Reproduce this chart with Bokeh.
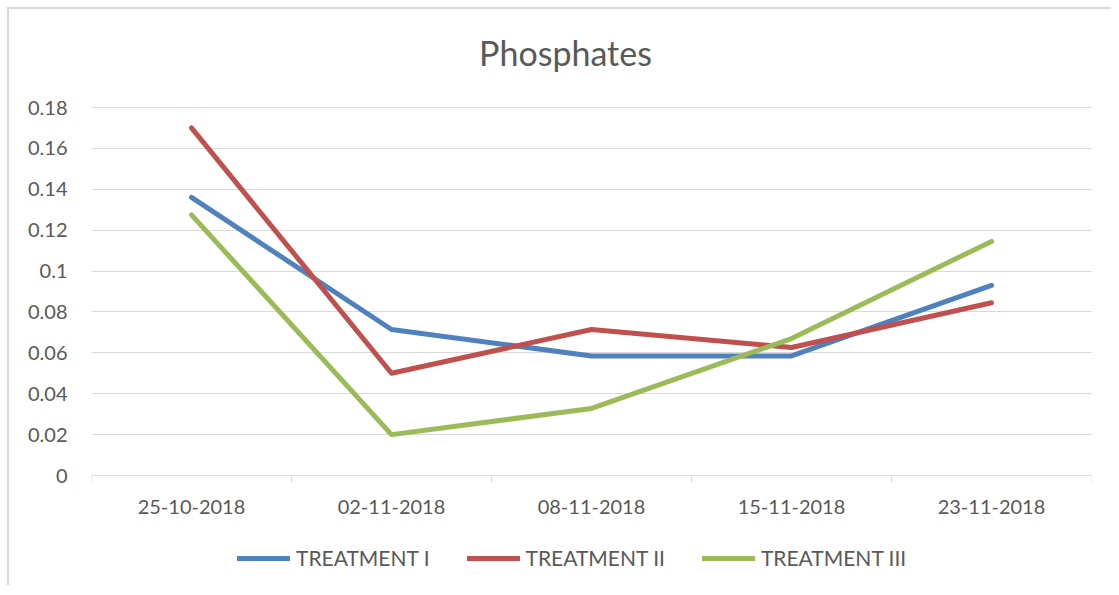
from bokeh.plotting import figure
from bokeh.models import Range1d, FixedTicker, Legend, LegendItem, Label
from bokeh.embed import file_html
from bokeh.resources import INLINE

dates = ["25-10-2018", "02-11-2018", "08-11-2018", "15-11-2018", "23-11-2018"]
treatment_1 = [0.136, 0.0714, 0.0585, 0.0585, 0.093]
treatment_2 = [0.170, 0.0500, 0.0714, 0.0626, 0.0845]
treatment_3 = [0.1275, 0.0200, 0.0328, 0.0670, 0.1145]
series_names = ["TREATMENT I", "TREATMENT II", "TREATMENT III"]
y_ticks = [0, 0.02, 0.04, 0.06, 0.08, 0.1, 0.12, 0.14, 0.16, 0.18]
y_tick_labels = ["0", "0.02", "0.04", "0.06", "0.08", "0.1", "0.12", "0.14", "0.16", "0.18"]
chart_title = "Phosphates"

FONT = "Lato"
TXT = "#595959"
GRID = "#d9d9d9"
colors = ["#4F81BD", "#C0504D", "#9BBB59"]

xs = [i + 0.5 for i in range(len(dates))]

# plot area: 368 px for 0..0.18, extended below zero (axis labels, legend) and above (title)
PLOT_H = 368
EXTRA_BOTTOM = 110
EXTRA_TOP = 98
y_top_tick = y_ticks[-1]
y_bottom = -y_top_tick * EXTRA_BOTTOM / PLOT_H
y_top = y_top_tick + y_top_tick * EXTRA_TOP / PLOT_H
FRAME_H = PLOT_H + EXTRA_BOTTOM + EXTRA_TOP

p = figure(frame_width=1000, frame_height=FRAME_H, output_backend="svg", toolbar_location=None,
           x_range=Range1d(0, len(dates)), y_range=Range1d(y_bottom, y_top),
           min_border_left=82, min_border_right=20, min_border_top=0, min_border_bottom=0)

p.styles = {"margin-left": "7px", "margin-top": "7px",
            "border-left": "2px solid #d9d9d9", "border-top": "2px solid #d9d9d9"}

p.title.visible = False

p.outline_line_color = None
p.background_fill_color = "white"
p.border_fill_color = "white"

# title drawn inside the (extended) plot area
title = Label(x=474, y=FRAME_H - 43, x_units="screen", y_units="screen", text=chart_title,
              text_font=FONT, text_font_size="34px", text_color=TXT,
              text_align="center", text_baseline="middle")
p.add_layout(title)

# grid
p.xgrid.grid_line_color = None
p.ygrid.grid_line_color = GRID
p.ygrid.grid_line_width = 1

# y axis
p.yaxis.ticker = FixedTicker(ticks=y_ticks)
p.yaxis.major_label_overrides = dict(zip(y_ticks, y_tick_labels))
p.yaxis.axis_line_color = None
p.yaxis.major_tick_line_color = None
p.yaxis.minor_tick_line_color = None
p.yaxis.major_label_standoff = 18
p.yaxis.major_label_text_font = FONT
p.yaxis.major_label_text_font_size = "20px"
p.yaxis.major_label_text_color = TXT

# x axis, pinned at y = 0
p.xaxis.fixed_location = 0
p.xaxis.ticker = FixedTicker(ticks=xs, minor_ticks=list(range(len(dates) + 1)))
p.xaxis.major_label_overrides = dict(zip(xs, dates))
p.xaxis.axis_line_color = GRID
p.xaxis.axis_line_width = 1
p.xaxis.major_tick_line_color = None
p.xaxis.major_tick_out = 0
p.xaxis.major_tick_in = 0
p.xaxis.minor_tick_line_color = GRID
p.xaxis.minor_tick_out = 7
p.xaxis.minor_tick_in = 0
p.xaxis.major_label_standoff = 17
p.xaxis.major_label_text_font = FONT
p.xaxis.major_label_text_font_size = "20px"
p.xaxis.major_label_text_color = TXT

items = []
for name, vals, c in zip(series_names, [treatment_1, treatment_2, treatment_3], colors):
    r = p.line(xs, vals, line_color=c, line_width=5, line_cap="round", line_join="round")
    items.append(LegendItem(label=name, renderers=[r]))

legend = Legend(items=items, orientation="horizontal", location=(146, 15))
legend.label_text_font = FONT
legend.label_text_font_size = "21px"
legend.label_text_color = TXT
legend.glyph_width = 53
legend.glyph_height = 20
legend.label_standoff = 6
legend.spacing = 37
legend.padding = 0
legend.margin = 0
legend.border_line_color = None
legend.background_fill_alpha = 0
p.add_layout(legend, "center")

open("out.html", "w").write(file_html(p, INLINE))
